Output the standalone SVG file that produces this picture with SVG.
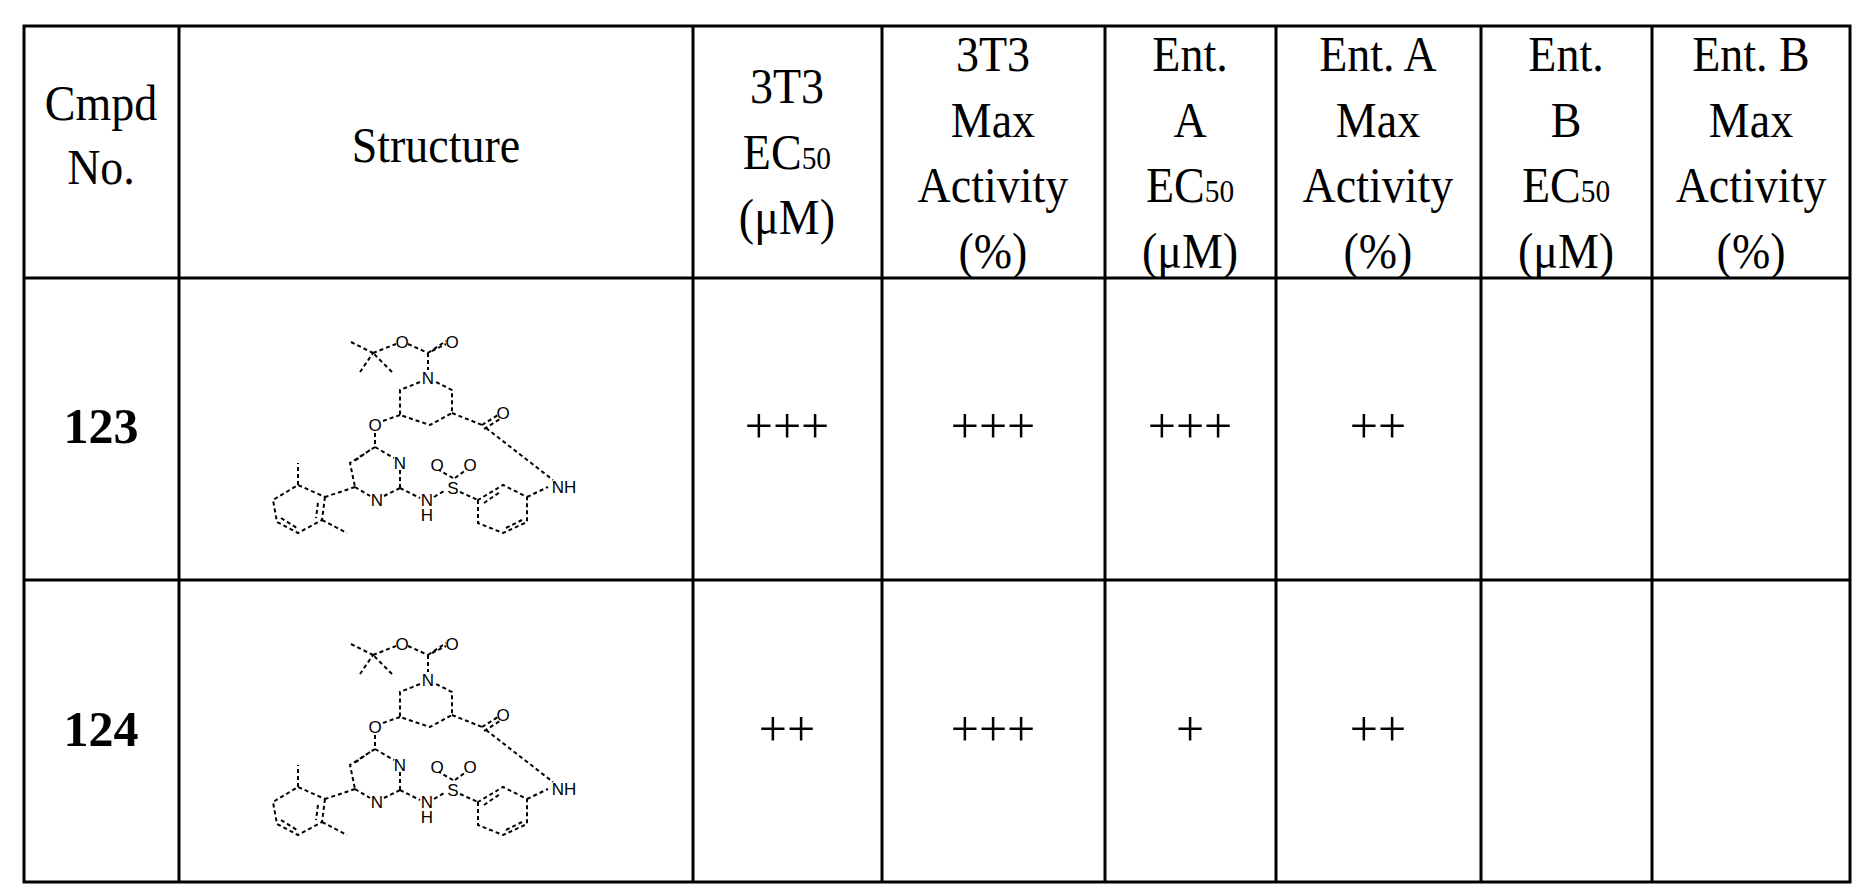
<svg xmlns="http://www.w3.org/2000/svg" width="1873" height="895" viewBox="0 0 1873 895">
<style>
.g{stroke:#000;stroke-width:3;fill:none}
.t{font-family:"Liberation Serif",serif;font-size:50px;text-anchor:middle;fill:#000}
.b{font-weight:bold}
.s{font-size:32px}
.bd{stroke:#000;stroke-width:2;stroke-dasharray:4 3;fill:none}
.a{font-family:"Liberation Sans",sans-serif;font-size:17px;text-anchor:middle;fill:#000}
</style>
<defs>
<g id="mol">
<path class="bd" d="M351 342L373 353M360 372L373 353M392 372L373 353M373 353L396 344M408 344L428 353M428 353L428 370M432 351L446 344M428 353L446 341M420 382L400 390L400 415L430 425L452 413L452 390L436 382M400 415L380 422M375 433L375 447M452 413L482 425M482 425L498 415M484 429L500 419M486 428L553 480M375 447L394 458M400 470L400 488M375 447L350 463L355 487M370 450L353 462M355 487L370 496M400 488L384 496M355 487L325 497M325 497L322 520L298 533L277 522L273 500L298 485Z M318 503L316 518M281 518L297 528M298 485L298 463M322 520L347 533M400 488L420 498M434 497L446 490M453 478L439 470M455 478L466 470M460 492L478 500M478 500L478 523L503 533L527 522L527 497L503 485Z M484 503L500 492M506 528L522 520M527 497L548 487"/>
<text class="a" x="402" y="348">O</text>
<text class="a" x="452" y="348">O</text>
<text class="a" x="428" y="384">N</text>
<text class="a" x="375" y="431">O</text>
<text class="a" x="503" y="419">O</text>
<text class="a" x="400" y="469">N</text>
<text class="a" x="377" y="506">N</text>
<text class="a" x="427" y="506">N</text>
<text class="a" x="427" y="521">H</text>
<text class="a" x="453" y="494">S</text>
<text class="a" x="437" y="471">O</text>
<text class="a" x="470" y="471">O</text>
<text class="a" x="564" y="493">NH</text>
</g>
</defs>
<g id="grid">
<rect class="g" x="24" y="26" width="1826" height="856"/>
<path class="g" d="M24 278H1850M24 580H1850M179 26V882M693 26V882M882 26V882M1105 26V882M1276 26V882M1481 26V882M1652 26V882"/>
</g>
<g id="header" transform="scale(0.92,1)">
<text class="t" x="109.8" y="120">Cmpd</text><text class="t" x="109.8" y="184">No.</text>
<text class="t" x="473.9" y="162">Structure</text>
<text class="t" x="855.4" y="103">3T3</text><text class="t" x="855.4" y="169">EC<tspan class="s">50</tspan></text><text class="t" x="855.4" y="234">(μM)</text>
<text class="t" x="1079.3" y="71">3T3</text><text class="t" x="1079.3" y="137">Max</text><text class="t" x="1079.3" y="202">Activity</text><text class="t" x="1079.3" y="268">(%)</text>
<text class="t" x="1293.5" y="71">Ent.</text><text class="t" x="1293.5" y="137">A</text><text class="t" x="1293.5" y="202">EC<tspan class="s">50</tspan></text><text class="t" x="1293.5" y="268">(μM)</text>
<text class="t" x="1497.8" y="71">Ent. A</text><text class="t" x="1497.8" y="137">Max</text><text class="t" x="1497.8" y="202">Activity</text><text class="t" x="1497.8" y="268">(%)</text>
<text class="t" x="1702.2" y="71">Ent.</text><text class="t" x="1702.2" y="137">B</text><text class="t" x="1702.2" y="202">EC<tspan class="s">50</tspan></text><text class="t" x="1702.2" y="268">(μM)</text>
<text class="t" x="1903.3" y="71">Ent. B</text><text class="t" x="1903.3" y="137">Max</text><text class="t" x="1903.3" y="202">Activity</text><text class="t" x="1903.3" y="268">(%)</text>
</g>
<g id="row123">
<text class="t b" x="101" y="443">123</text>
<use href="#mol"/>
<text class="t" x="787" y="443">+++</text><text class="t" x="993" y="443">+++</text><text class="t" x="1190" y="443">+++</text><text class="t" x="1378" y="443">++</text>
</g>
<g id="row124">
<text class="t b" x="101" y="746">124</text>
<use href="#mol" transform="translate(0,302)"/>
<text class="t" x="787" y="746">++</text><text class="t" x="993" y="746">+++</text><text class="t" x="1190" y="746">+</text><text class="t" x="1378" y="746">++</text>
</g>
</svg>
